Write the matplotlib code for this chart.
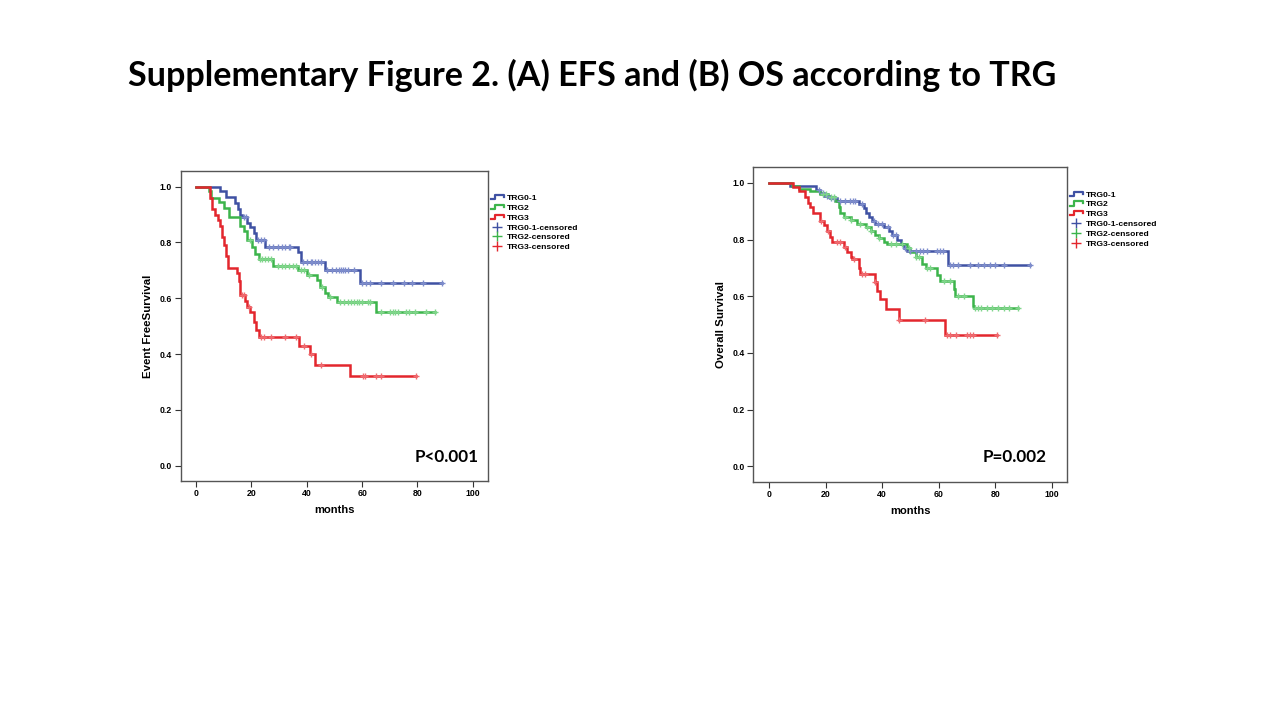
import numpy as np
import matplotlib
matplotlib.use("Agg")
import matplotlib.pyplot as plt
from matplotlib.lines import Line2D
from matplotlib.legend_handler import HandlerBase

# ---------------- data ----------------
title_text = "Supplementary Figure 2. (A) EFS and (B) OS according to TRG"
group_names = ["TRG0-1", "TRG2", "TRG3"]

# (A) EFS  step times / survival values
efs_blue_t = [0, 8.8, 10.9, 14.2, 15.2, 16.0, 16.8, 18.4, 19.6, 20.8, 21.6, 25.0, 37.0, 37.8, 46.6, 59.2]
efs_blue_s = [1.0, 0.985, 0.964, 0.94, 0.92, 0.90, 0.89, 0.87, 0.855, 0.835, 0.81, 0.785, 0.765, 0.73, 0.70, 0.655]
efs_blue_end = 88.8
efs_blue_c = [17.5, 18.0, 22.5, 23.5, 24.5, 26.5, 28, 29.5, 31, 32, 33.5, 34, 38.5, 40, 41.5, 42, 43,
              44, 45, 47.5, 49, 50.5, 51.5, 52.5, 53, 54, 55, 57, 60, 61.5, 63, 67, 71, 75, 78, 82, 88.8]

efs_green_t = [0, 4.6, 5.4, 8.2, 10.0, 11.8, 16.0, 17.2, 18.4, 20.2, 21.4, 22.6, 28.0, 37.0, 40.0, 43.6,
               44.8, 46.6, 47.8, 50.8, 65.2]
efs_green_s = [1.0, 0.985, 0.96, 0.945, 0.925, 0.89, 0.86, 0.84, 0.81, 0.785, 0.76, 0.74, 0.715, 0.70,
               0.685, 0.665, 0.64, 0.62, 0.605, 0.585, 0.55]
efs_green_end = 86.5
efs_green_c = [19.5, 23, 24, 25, 26, 27, 29.5, 31, 32, 33.5, 35, 36, 38, 39, 41, 45.5, 48.5, 52, 53.5,
               55, 56, 57, 58, 59, 60, 62, 63, 67, 70, 71, 72, 73, 76, 77, 79, 83, 86.5]

efs_red_t = [0, 5.2, 5.8, 7.0, 7.8, 8.8, 9.4, 10.2, 10.9, 11.4, 14.8, 15.4, 16.0, 17.8, 18.4, 19.6, 20.8,
             21.7, 22.6, 37.3, 41.2, 43.0, 55.6]
efs_red_s = [1.0, 0.96, 0.92, 0.90, 0.88, 0.86, 0.82, 0.79, 0.75, 0.71, 0.69, 0.66, 0.61, 0.59, 0.57,
             0.55, 0.515, 0.485, 0.46, 0.43, 0.40, 0.36, 0.32]
efs_red_end = 79.6
efs_red_c = [16.5, 17.2, 19, 23.5, 24.5, 27, 32, 36, 39, 41.5, 45, 60.5, 61, 65, 67, 79.6]

# (B) OS
os_blue_t = [0, 7.5, 16.7, 18.1, 19.3, 21.7, 24.0, 31.7, 33.5, 34.1, 35.3, 36.4, 37.6, 40.6, 42.4, 43.6,
             45.3, 46.5, 47.7, 48.9, 63.3]
os_blue_s = [1.0, 0.99, 0.975, 0.965, 0.955, 0.945, 0.935, 0.925, 0.91, 0.895, 0.88, 0.865, 0.855, 0.845,
             0.83, 0.815, 0.80, 0.785, 0.77, 0.76, 0.71]
os_blue_end = 92.4
os_blue_c = [17.5, 19, 20.5, 22, 23, 25, 27, 28.5, 29.5, 30.5, 33, 37, 38.5, 40, 42, 44, 45, 48, 50, 52,
             53.5, 54.5, 56, 59.5, 60.5, 61.5, 64, 65, 67, 71, 74, 76, 78, 80, 83, 92.4]

os_green_t = [0, 8.0, 10.4, 14.6, 18.1, 21.0, 23.4, 24.6, 25.2, 26.4, 28.8, 31.1, 34.1, 35.9, 37.6, 38.8,
              40.6, 41.8, 48.9, 50.0, 51.8, 54.2, 55.4, 59.5, 60.5, 65.4, 65.8, 72.0, 72.5]
os_green_s = [1.0, 0.99, 0.98, 0.97, 0.96, 0.95, 0.935, 0.915, 0.895, 0.88, 0.87, 0.855, 0.845, 0.83,
              0.815, 0.805, 0.79, 0.785, 0.77, 0.755, 0.74, 0.715, 0.70, 0.675, 0.655, 0.625, 0.60,
              0.565, 0.56]
os_green_end = 88.0
os_green_c = [19, 20, 22, 23, 27, 29, 32, 34.5, 36, 39, 43, 45, 47, 49.5, 52, 53, 56, 57, 62, 64, 67,
              69, 73, 74, 75, 77, 79, 81, 83, 85, 88]

os_red_t = [0, 8.6, 10.4, 12.8, 13.6, 14.6, 15.7, 17.9, 19.3, 20.5, 21.4, 22.2, 26.4, 27.6, 28.8, 29.3,
            31.7, 32.3, 37.4, 38.2, 39.4, 41.5, 45.9, 62.2]
os_red_s = [1.0, 0.985, 0.97, 0.95, 0.93, 0.915, 0.895, 0.865, 0.85, 0.83, 0.81, 0.79, 0.775, 0.755,
            0.74, 0.73, 0.70, 0.68, 0.65, 0.62, 0.59, 0.555, 0.515, 0.465]
os_red_end = 80.8
os_red_c = [18.5, 21, 24, 25, 27, 30, 33, 34, 37.6, 46, 55, 63, 64, 66, 70, 71, 72, 80.8]

x_ticks = [0, 20, 40, 60, 80, 100]
y_ticks = [0.0, 0.2, 0.4, 0.6, 0.8, 1.0]

colors = ["#3f51a3", "#3cb44b", "#e3262d"]
cens_colors = ["#7d8ccc", "#7fd68a", "#f06a6f"]

FONT_TXT = "Liberation Sans"
FONT_TITLE = "Lato"


class StepHandler(HandlerBase):
    def create_artists(self, legend, orig_handle, xdescent, ydescent, width, height, fontsize, trans):
        w, h = width, height
        xs = [-xdescent, -xdescent + 0.35 * w, -xdescent + 0.35 * w, -xdescent + w, -xdescent + w]
        ys = [-ydescent + 0.15 * h, -ydescent + 0.15 * h, -ydescent + 0.85 * h, -ydescent + 0.85 * h,
              -ydescent + 0.5 * h]
        ln = Line2D(xs, ys, color=orig_handle.get_color(), lw=1.6, transform=trans)
        return [ln]


def draw_km(ax, curves, ylabel, ptext, ppos):
    for (t, s, end, c), col, ccol in zip(curves, colors, cens_colors):
        xs = list(t) + [end]
        ys = list(s) + [s[-1]]
        ax.step(xs, ys, where="post", color=col, lw=1.8, solid_joinstyle="miter", zorder=3)
        t_arr = np.asarray(t)
        s_arr = np.asarray(s)
        idx = np.searchsorted(t_arr, np.asarray(c), side="right") - 1
        ax.plot(c, s_arr[idx], ls="none", marker="+", ms=5, mew=1.0, color=ccol, zorder=4)
    ax.set_xlim(-5.6, 105.5)
    ax.set_ylim(-0.055, 1.056)
    ax.set_xticks(x_ticks)
    ax.set_yticks(y_ticks)
    ax.set_xticklabels([str(v) for v in x_ticks])
    ax.set_yticklabels([f"{v:.1f}" for v in y_ticks])
    ax.tick_params(direction="out", length=4, width=0.8, color="#333333", labelsize=6.3, pad=2)
    for lab in ax.get_xticklabels() + ax.get_yticklabels():
        lab.set_fontweight("bold")
        lab.set_family(FONT_TXT)
    for sp in ax.spines.values():
        sp.set_color("#555555")
        sp.set_linewidth(1.0)
    ax.set_xlabel("months", fontsize=8.0, fontweight="bold", family=FONT_TXT, labelpad=5)
    ax.set_ylabel(ylabel, fontsize=8.2, fontweight="bold", family=FONT_TXT, labelpad=5)
    ax.text(ppos[0], ppos[1], ptext, transform=ax.transAxes, ha="right", va="center",
            fontsize=12.3, fontweight="bold", family=FONT_TITLE)


fig = plt.figure(figsize=(12.8, 7.2), dpi=100)
fig.patch.set_facecolor("white")

ax1 = fig.add_axes([180.5 / 1280, 1 - 481 / 720, (488 - 180.5) / 1280, (481 - 171) / 720])
ax2 = fig.add_axes([753.3 / 1280, 1 - 482 / 720, (1067.3 - 753.3) / 1280, (482 - 167) / 720])

draw_km(ax1, [(efs_blue_t, efs_blue_s, efs_blue_end, efs_blue_c),
              (efs_green_t, efs_green_s, efs_green_end, efs_green_c),
              (efs_red_t, efs_red_s, efs_red_end, efs_red_c)],
        "Event FreeSurvival", "P<0.001", (0.971, 0.076))
draw_km(ax2, [(os_blue_t, os_blue_s, os_blue_end, os_blue_c),
              (os_green_t, os_green_s, os_green_end, os_green_c),
              (os_red_t, os_red_s, os_red_end, os_red_c)],
        "Overall Survival", "P=0.002", (0.934, 0.078))

step_handles = [Line2D([], [], color=c) for c in colors]
cens_handles = [Line2D([], [], color=c, marker="+", ms=7, mew=1.0, ls="none") for c in colors]
labels = group_names + [g + "-censored" for g in group_names]
hmap = {h: StepHandler() for h in step_handles}

for ax, anchor in [(ax1, (489 / 1280, 1 - 192.5 / 720)), (ax2, (1068 / 1280, 1 - 189 / 720))]:
    leg = fig.legend(step_handles + cens_handles, labels, handler_map=hmap, loc="upper left",
                     bbox_to_anchor=anchor, frameon=False,
                     prop={"family": FONT_TXT, "weight": "bold", "size": 6.1},
                     handlelength=1.6, handleheight=0.7, handletextpad=0.3, labelspacing=0.22,
                     borderpad=0.2, borderaxespad=0.0)

fig.text(128 / 1280, 1 - 75 / 720, title_text, ha="left", va="center", fontsize=24.6,
         fontweight="bold", family=FONT_TITLE)

fig.savefig("out.png", dpi=100, facecolor="white")
